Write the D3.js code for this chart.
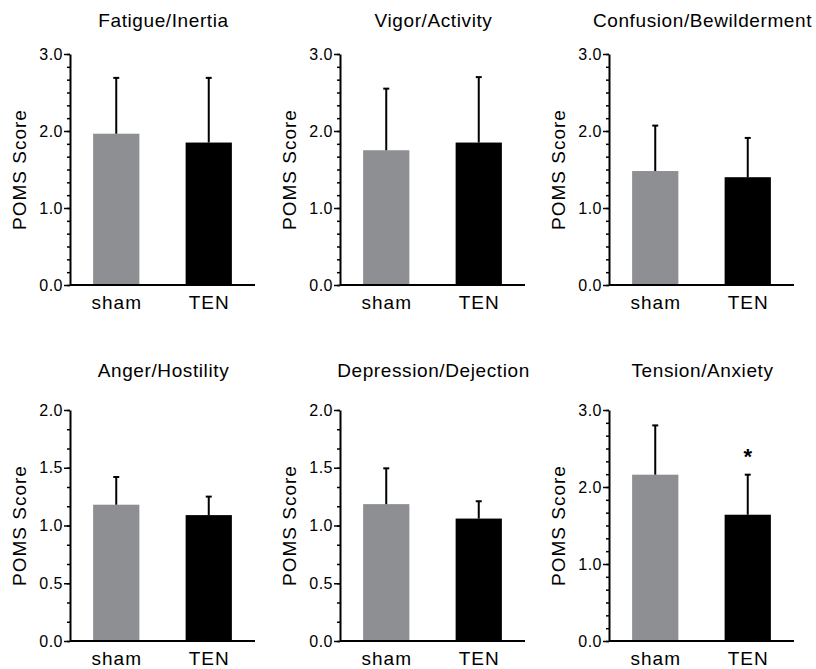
<!DOCTYPE html>
<html>
<head>
<meta charset="utf-8">
<script src="https://cdn.jsdelivr.net/npm/d3@7"></script>
<style>
  body { margin: 0; background: #fff; }
  svg { display: block; font-family: "Liberation Sans", Arial, sans-serif; }
</style>
</head>
<body>
<svg id="chart" width="816" height="669"></svg>
<script>
// POMS subscale scores, sham vs TEN (bar = mean, whisker = +SD)
var titles = ["Fatigue/Inertia", "Vigor/Activity", "Confusion/Bewilderment",
              "Anger/Hostility", "Depression/Dejection", "Tension/Anxiety"];
var groups = ["sham", "TEN"];
var shamMean = [1.965, 1.75, 1.48, 1.18, 1.185, 2.16];
var shamSD   = [0.725, 0.80, 0.59, 0.24, 0.31, 0.64];
var tenMean  = [1.85, 1.85, 1.40, 1.09, 1.06, 1.64];
var tenSD    = [0.84, 0.85, 0.51, 0.16, 0.15, 0.52];
var tenSig   = [false, false, false, false, false, true];
var yMax     = [3, 3, 3, 2, 2, 3];
var yStep    = [1, 1, 1, 0.5, 0.5, 1];

var svg = d3.select("#chart");

var colX = [70, 340, 609];
var rowTop = [54, 410];
var titleY = [27, 377];
var plotW = 185, plotH = 231;
var colors = {sham: "#8e8f92", TEN: "#000000"};

var x = d3.scaleBand()
    .domain(groups)
    .range([0, plotW])
    .paddingInner(0.5)
    .paddingOuter(0.25);

titles.forEach(function(title, i) {
    var col = i % 3, row = Math.floor(i / 3);
    var g = svg.append("g")
        .attr("transform", "translate(" + colX[col] + "," + rowTop[row] + ")");

    var y = d3.scaleLinear()
        .domain([0, yMax[i]])
        .range([plotH, 0]);

    var bars = [
        {name: "sham", mean: shamMean[i], sd: shamSD[i], sig: false},
        {name: "TEN", mean: tenMean[i], sd: tenSD[i], sig: tenSig[i]}
    ];

    // title
    g.append("text")
        .attr("x", plotW / 2 + 1)
        .attr("y", titleY[row] - rowTop[row])
        .attr("text-anchor", "middle")
        .style("font-size", "19px")
        .style("letter-spacing", "0.6px")
        .text(title);

    // minor ticks (6 per unit)
    var minor = d3.range(0, yMax[i] + 1e-9, 1 / 6);
    g.append("g")
        .call(d3.axisLeft(y).tickValues(minor).tickSize(3).tickFormat(""))
        .call(a => a.select(".domain").remove())
        .selectAll("line").attr("stroke-width", 1.5);

    // major ticks
    var yAxis = g.append("g")
        .call(d3.axisLeft(y)
            .tickValues(d3.range(0, yMax[i] + 1e-9, yStep[i]))
            .tickFormat(d3.format(".1f"))
            .tickSize(6)
            .tickPadding(1)
            .tickSizeOuter(0));
    yAxis.select(".domain").attr("stroke-width", 2);
    yAxis.selectAll("line").attr("stroke-width", 1.5);
    yAxis.selectAll("text")
        .style("font-size", "16px")
        .style("letter-spacing", "0.5px")
        .attr("fill", "#000");

    // bars
    g.selectAll(".bar")
        .data(bars)
        .enter().append("rect")
        .attr("class", "bar")
        .attr("x", d => x(d.name))
        .attr("y", d => y(d.mean))
        .attr("width", x.bandwidth())
        .attr("height", d => plotH - y(d.mean))
        .attr("fill", d => colors[d.name]);

    // error bars (upper only)
    var err = g.selectAll(".err")
        .data(bars)
        .enter().append("g")
        .attr("class", "err")
        .attr("stroke", "#000")
        .attr("stroke-width", 2);
    err.append("line")
        .attr("x1", d => x(d.name) + x.bandwidth() / 2)
        .attr("x2", d => x(d.name) + x.bandwidth() / 2)
        .attr("y1", d => y(d.mean))
        .attr("y2", d => y(d.mean + d.sd));
    err.append("line")
        .attr("x1", d => x(d.name) + x.bandwidth() / 2 - 3)
        .attr("x2", d => x(d.name) + x.bandwidth() / 2 + 3)
        .attr("y1", d => y(d.mean + d.sd))
        .attr("y2", d => y(d.mean + d.sd));

    // significance marker
    g.selectAll(".sig")
        .data(bars.filter(d => d.sig))
        .enter().append("text")
        .attr("class", "sig")
        .attr("x", d => x(d.name) + x.bandwidth() / 2)
        .attr("y", d => y(d.mean + d.sd) - 11)
        .attr("text-anchor", "middle")
        .style("font-size", "22px")
        .style("font-weight", "bold")
        .text("*");

    // x axis baseline
    g.append("line")
        .attr("x1", 0).attr("x2", plotW)
        .attr("y1", plotH).attr("y2", plotH)
        .attr("stroke", "#000")
        .attr("stroke-width", 2);

    // category labels
    g.selectAll(".cat")
        .data(groups)
        .enter().append("text")
        .attr("class", "cat")
        .attr("x", d => x(d) + x.bandwidth() / 2 + 0.5)
        .attr("y", plotH + 24)
        .attr("text-anchor", "middle")
        .style("font-size", "19px")
        .style("letter-spacing", "1px")
        .text(d => d);

    // y label
    g.append("text")
        .attr("transform", "translate(-44," + plotH / 2 + ") rotate(-90)")
        .attr("text-anchor", "middle")
        .style("font-size", "19px")
        .style("letter-spacing", "1px")
        .text("POMS Score");
});
</script>
</body>
</html>
